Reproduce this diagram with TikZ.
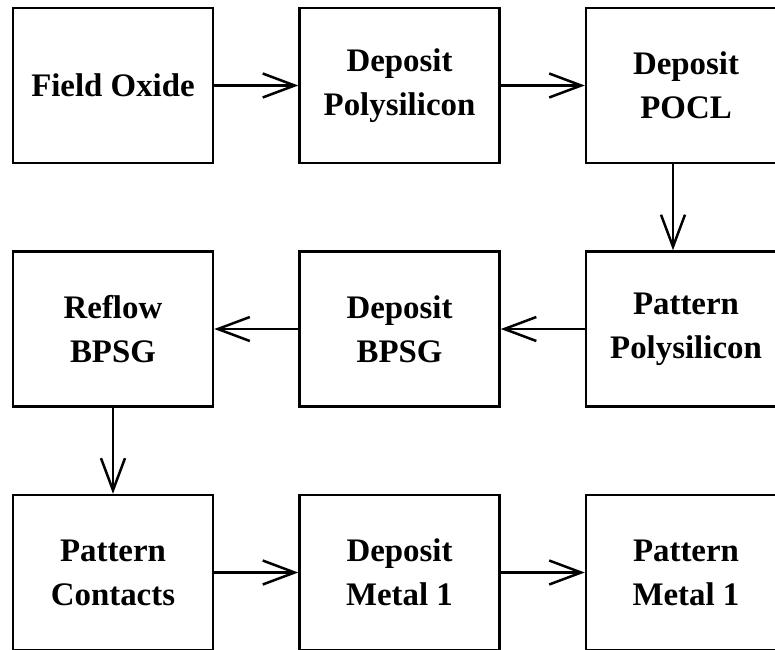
\documentclass[tikz,border=0pt]{standalone}
\usepackage{fontspec}
\setmainfont{Liberation Serif}
\usetikzlibrary{positioning,arrows.meta}

\begin{document}
\begin{tikzpicture}[
		x=1bp, y=1bp,
		node distance=86bp and 84bp,
		every node/.style={draw, line width=2.5bp, minimum width=200bp, minimum height=155bp, align=center, font=\bfseries\fontsize{33}{44}\selectfont},
		flow/.style={line width=2.5bp, -{Straight Barb[length=32bp,width=24bp]}}
		]
		\useasboundingbox (0,0) rectangle (775,-650);
		% Top row
		\node (oxide) at (113,-85.5) {Field Oxide};
		\node[right=of oxide] (depoly) {Deposit\\Polysilicon};
		\node[right=of depoly] (pocl) {Deposit\\POCL};
		% Middle row (right to left)
		\node[below=of pocl] (patpoly) {Pattern\\Polysilicon};
		\node[left=of patpoly] (bpsg) {Deposit\\BPSG};
		\node[left=of bpsg] (reflow) {Reflow\\BPSG};
		% Bottom row
		\node[below=of reflow] (contacts) {Pattern\\Contacts};
		\node[right=of contacts] (metal) {Deposit\\Metal 1};
		\node[right=of metal] (patmetal) {Pattern\\Metal 1};
		% Process flow
		\draw[flow] (oxide) -- (depoly);
		\draw[flow] (depoly) -- (pocl);
		\draw[flow] ([xshift=-13bp]pocl.south) -- ([xshift=-13bp]patpoly.north);
		\draw[flow] (patpoly) -- (bpsg);
		\draw[flow] (bpsg) -- (reflow);
		\draw[flow] (reflow) -- (contacts);
		\draw[flow] (contacts) -- (metal);
		\draw[flow] (metal) -- (patmetal);
	\end{tikzpicture}
\end{document}
